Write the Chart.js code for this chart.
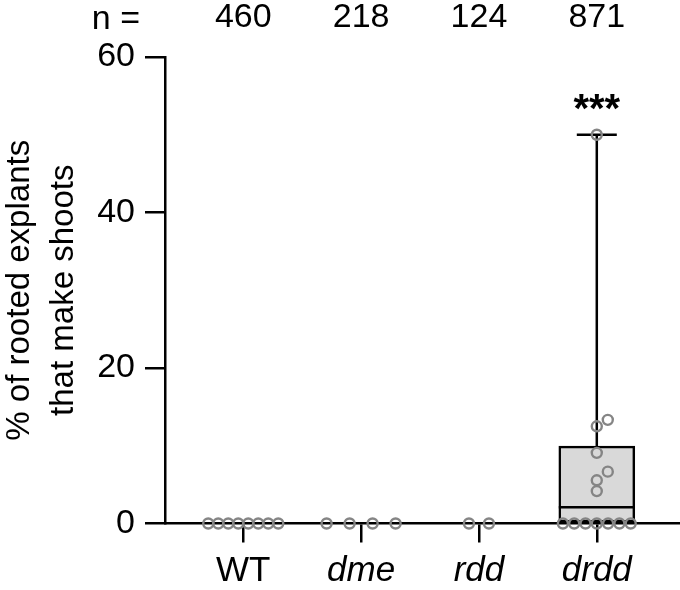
<!DOCTYPE html>
<html>
<head>
<meta charset="utf-8">
<script src="https://cdn.jsdelivr.net/npm/chart.js@4.4.1/dist/chart.umd.min.js"></script>
<style>html,body{margin:0;padding:0;background:#fff}</style>
</head>
<body>
<canvas id="chart" width="680" height="590"></canvas>
<script>
const categories = ['WT', 'dme', 'rdd', 'drdd'];
const sampleSizes = [460, 218, 124, 871];
const yTicks = [0, 20, 40, 60];
// % of rooted explants that make shoots, one dot per replicate
const wtValues = [0, 0, 0, 0, 0, 0, 0, 0];
const dmeValues = [0, 0, 0, 0];
const rddValues = [0, 0];
const drddValues = [0, 0, 0, 0, 0, 0, 0, 4.17, 5.56, 6.67, 9.09, 12.5, 13.33, 50];
const significance = ['', '', '', '***'];

const groups = [wtValues, dmeValues, rddValues, drddValues];

const FONT = "'Liberation Sans', Arial, sans-serif";
const W = 680, H = 590;
const LEFT = 165, TOP = 57, BOTTOM = 523.5;
const X_MIN = -0.664, X_MAX = 3.706;
const pxX = (W - LEFT) / (X_MAX - X_MIN);
const pxY = (BOTTOM - TOP) / 60;
const zeroGap = [10, 23, 20, 11.3]; // px between dots lying on the axis

// spread dots sideways so they don't sit on top of each other
function spread(values, gi) {
  const pts = [];
  const zeros = values.filter(v => v === 0);
  zeros.forEach((v, i) => pts.push({ x: gi + (i - (zeros.length - 1) / 2) * zeroGap[gi] / pxX, y: v }));
  const placed = [];
  values.filter(v => v !== 0).sort((a, b) => a - b).forEach(v => {
    let k = 0;
    while (placed.some(p => Math.hypot((p.k - k) * 11, (p.v - v) * pxY) < 10)) k++;
    placed.push({ k, v });
    pts.push({ x: gi + k * 11 / pxX, y: v });
  });
  return pts;
}

// quartiles the (n+1) way
function quantile(sorted, p) {
  const pos = Math.min(Math.max(p * (sorted.length + 1) - 1, 0), sorted.length - 1);
  const lo = Math.floor(pos), hi = Math.min(lo + 1, sorted.length - 1);
  return sorted[lo] + (pos - lo) * (sorted[hi] - sorted[lo]);
}

const boxes = groups.map((vals, gi) => {
  const s = [...vals].sort((a, b) => a - b);
  return { gi, min: s[0], q1: quantile(s, 0.25), med: quantile(s, 0.5), q3: quantile(s, 0.75), max: s[s.length - 1] };
}).filter(b => b.max > b.min);

const halfBox = 38 / pxX, halfCap = 20 / pxX;
const medianLines = [], whiskers = [], caps = [];
boxes.forEach(b => {
  medianLines.push({ x: b.gi - halfBox, y: b.med }, { x: b.gi + halfBox, y: b.med }, { x: b.gi, y: null });
  whiskers.push({ x: b.gi, y: b.q3 }, { x: b.gi, y: b.max }, { x: b.gi, y: null });
  whiskers.push({ x: b.gi, y: b.min }, { x: b.gi, y: b.q1 }, { x: b.gi, y: null });
  caps.push({ x: b.gi - halfCap, y: b.max }, { x: b.gi + halfCap, y: b.max }, { x: b.gi, y: null });
});

const dots = groups.flatMap((vals, gi) => spread(vals, gi));

const lineStyle = { type: 'line', borderColor: '#000', borderWidth: 2.5, pointRadius: 0, spanGaps: false, order: 1 };

const annotations = {
  id: 'annotations',
  afterDraw(chart) {
    const { ctx, scales: { x, y } } = chart;
    ctx.save();
    ctx.fillStyle = '#000';
    ctx.font = `34px ${FONT}`;
    ctx.textAlign = 'right';
    ctx.textBaseline = 'alphabetic';
    ctx.fillText('n =', 140, 29);
    ctx.font = `bold 40px ${FONT}`;
    ctx.textAlign = 'center';
    significance.forEach((s, i) => {
      if (s) ctx.fillText(s, x.getPixelForValue(i), y.getPixelForValue(Math.max(...groups[i])) - 13);
    });
    ctx.restore();
  }
};

const catTicks = s => { s.ticks = categories.map((c, i) => ({ value: i })); };

new Chart(document.getElementById('chart').getContext('2d'), {
  type: 'scatter',
  data: {
    datasets: [
      { type: 'scatter', data: dots, pointRadius: 5, pointHoverRadius: 5, borderWidth: 2.4,
        borderColor: '#858585', backgroundColor: 'rgba(0,0,0,0)', clip: false, order: 0 },
      { ...lineStyle, data: medianLines },
      { ...lineStyle, data: whiskers },
      { ...lineStyle, data: caps },
      { type: 'bar', data: boxes.map(b => ({ x: b.gi, y: [b.q1, b.q3] })), backgroundColor: '#d9d9d9',
        borderColor: '#000', borderWidth: 2.5, borderSkipped: false, barThickness: 76, order: 2 }
    ]
  },
  options: {
    responsive: false,
    animation: false,
    layout: { padding: 0, autoPadding: false },
    plugins: { legend: { display: false }, tooltip: { enabled: false } },
    scales: {
      x: {
        type: 'linear', position: 'bottom', min: X_MIN, max: X_MAX, offset: false,
        afterBuildTicks: catTicks,
        afterFit: s => { s.height = H - BOTTOM; },
        grid: { offset: false, drawOnChartArea: false, tickLength: 19, color: '#000', lineWidth: 2.5 },
        border: { color: '#000', width: 2.5 },
        ticks: {
          color: '#000', padding: 8, maxRotation: 0, autoSkip: false,
          callback: v => categories[v],
          font: ctx => ({ family: FONT, size: 35, style: ctx.index === 0 ? 'normal' : 'italic' })
        }
      },
      xTop: {
        type: 'linear', position: 'top', min: X_MIN, max: X_MAX, offset: false,
        afterBuildTicks: catTicks,
        afterFit: s => { s.height = TOP; },
        grid: { display: false, drawTicks: false, offset: false },
        border: { display: false },
        ticks: { color: '#000', padding: 19, maxRotation: 0, autoSkip: false,
          callback: v => sampleSizes[v], font: { family: FONT, size: 34 } }
      },
      y: {
        min: 0, max: 60,
        afterBuildTicks: s => { s.ticks = yTicks.map(v => ({ value: v })); },
        afterFit: s => { s.width = LEFT; },
        grid: { drawOnChartArea: false, tickLength: 20, color: '#000', lineWidth: 2.5 },
        border: { color: '#000', width: 2.5 },
        ticks: { color: '#000', padding: 10, font: { family: FONT, size: 34 } },
        title: {
          display: true,
          text: ['% of rooted explants', 'that make shoots'],
          color: '#000',
          font: { family: FONT, size: 33, lineHeight: 1.33 },
          padding: { top: -2, bottom: 0 }
        }
      }
    }
  },
  plugins: [annotations]
});
</script>
</body>
</html>
